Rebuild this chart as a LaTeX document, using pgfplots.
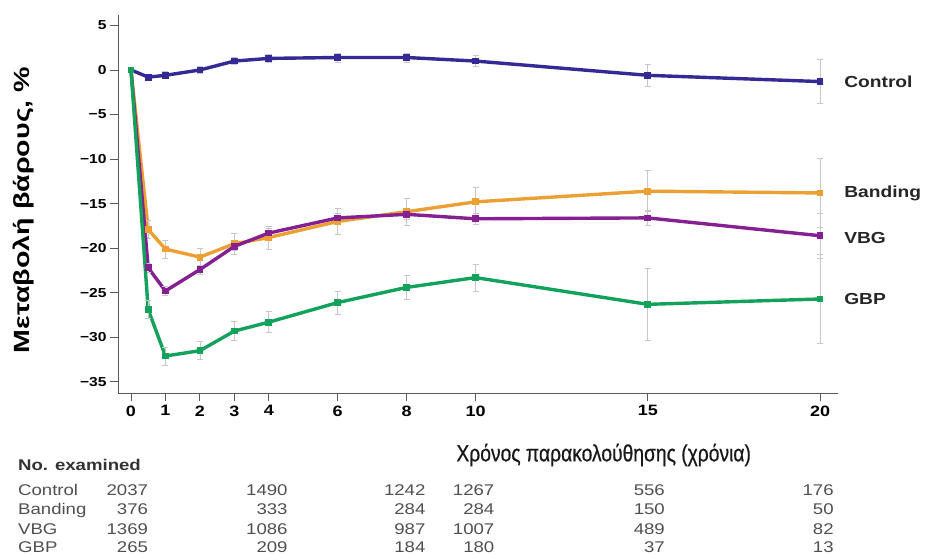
\documentclass[border=0pt]{standalone}
\usepackage{pgfplots}
\pgfplotsset{compat=1.18}
\usepackage{fontspec}
\setmainfont{Liberation Sans}
\newfontfamily\narrowfont[FakeStretch=0.82,FakeBold=0.6]{Liberation Sans}
\newfontfamily\wideb[FakeStretch=1.2]{Liberation Sans}
\newfontfamily\ylabfont[FakeStretch=1.3]{Liberation Sans}
\definecolor{ctrl}{RGB}{52,42,150}
\definecolor{band}{RGB}{236,160,52}
\definecolor{vbg}{RGB}{132,32,145}
\definecolor{gbp}{RGB}{18,162,92}
\definecolor{axgray}{RGB}{90,90,90}
\definecolor{tabgray}{RGB}{80,80,80}
\begin{document}
\begin{tikzpicture}[x=1pt,y=1pt]
\path[use as bounding box] (0,0) rectangle (928,555);
\begin{axis}[
  at={(118pt,162pt)}, anchor=south west,
  scale only axis, width=720pt, height=378pt,
  xmin=-0.377, xmax=20.52, ymin=-36.25, ymax=6.17,
  axis lines=left, axis line style={-, axgray, line width=1pt},
  xtick={0,1,2,3,4,6,8,10,15,20},
  ytick={-35,-30,-25,-20,-15,-10,-5,0,5},
  yticklabels={−35,−30,−25,−20,−15,−10,−5,0,5},
  tick align=outside, major tick length=8pt,
  tick style={axgray, line width=0.9pt},
  /pgf/number format/assume math mode=true,
  xticklabel style={font=\wideb\fontsize{15}{17}\selectfont\bfseries, yshift=-1pt},
  yticklabel style={font=\wideb\fontsize{13}{15}\selectfont\bfseries, xshift=0pt},
  clip=false,
  error bars/y dir=both, error bars/y explicit,
  error bars/error bar style={black!22, line width=0.8pt},
  error bars/error mark options={rotate=90, mark size=3pt, black!22, line width=0.8pt},
  every axis plot/.append style={line width=3.4pt, mark=square*, mark size=1.7pt},
]
\addplot[ctrl] coordinates {
 (0,0) (0.5,-0.8) +- (0,0.3) (1,-0.6) +- (0,0.4) (2,0) +- (0,0.4) (3,1.0) +- (0,0.4)
 (4,1.3) +- (0,0.4) (6,1.4) +- (0,0.5) (8,1.4) +- (0,0.5) (10,1.0) +- (0,0.6)
 (15,-0.6) +- (0,1.2) (20,-1.3) +- (0,2.5)};
\addplot[band] coordinates {
 (0,0) (0.5,-17.9) +- (0,1.0) (1,-20.1) +- (0,1.0) (2,-21.0) +- (0,1.0) (3,-19.5) +- (0,1.2)
 (4,-18.8) +- (0,1.3) (6,-17.0) +- (0,1.5) (8,-15.9) +- (0,1.5) (10,-14.8) +- (0,1.6)
 (15,-13.6) +- (0,2.3) (20,-13.8) +- (0,3.9)};
\addplot[vbg] coordinates {
 (0,0) (0.5,-22.2) +- (0,0.5) (1,-24.8) +- (0,0.5) (2,-22.4) +- (0,0.5) (3,-19.8) +- (0,0.5)
 (4,-18.3) +- (0,0.5) (6,-16.6) +- (0,0.5) (8,-16.2) +- (0,0.6) (10,-16.7) +- (0,0.6)
 (15,-16.6) +- (0,0.8) (20,-18.6) +- (0,2.5)};
\addplot[gbp] coordinates {
 (0,0) (0.5,-26.9) +- (0,1.0) (1,-32.1) +- (0,1.0) (2,-31.5) +- (0,1.0) (3,-29.3) +- (0,1.1)
 (4,-28.3) +- (0,1.2) (6,-26.1) +- (0,1.3) (8,-24.4) +- (0,1.4) (10,-23.3) +- (0,1.5)
 (15,-26.3) +- (0,4.0) (20,-25.7) +- (0,5.0)};
% series labels
\node[anchor=west, font=\wideb\fontsize{16}{18}\selectfont\bfseries, text=black!85] at (axis cs:20.6,-1.3) {Control};
\node[anchor=west, font=\wideb\fontsize{16}{18}\selectfont\bfseries, text=black!85] at (axis cs:20.6,-13.8) {Banding};
\node[anchor=west, font=\wideb\fontsize{16}{18}\selectfont\bfseries, text=black!85] at (axis cs:20.6,-18.8) {VBG};
\node[anchor=west, font=\wideb\fontsize{16}{18}\selectfont\bfseries, text=black!85] at (axis cs:20.6,-25.7) {GBP};
% axis titles
\node[rotate=90, font=\ylabfont\fontsize{22}{24}\selectfont\bfseries] at (axis cs:-3.12,-15.7) {Μεταβολή βάρους, \%};
\node[font=\narrowfont\fontsize{23.5}{25}\selectfont, text=black!90] at (axis cs:13.72,-43.2) {Χρόνος παρακολούθησης (χρόνια)};
% table
\begin{scope}[every node/.style={font=\wideb\fontsize{15.5}{17}\selectfont, text=tabgray, inner sep=0pt}]
\node[anchor=base west, font=\wideb\fontsize{15.5}{17}\selectfont\bfseries, text=black!80] at (axis cs:-3.28,-44.9) {No. examined};
\node[anchor=base west] at (axis cs:-3.28,-47.7) {Control};
\node[anchor=base west] at (axis cs:-3.28,-49.9) {Banding};
\node[anchor=base west] at (axis cs:-3.28,-52.1) {VBG};
\node[anchor=base west] at (axis cs:-3.28,-54.1) {GBP};
\node[anchor=base east] at (axis cs:0.5,-47.7) {2037};
\node[anchor=base east] at (axis cs:0.5,-49.9) {376};
\node[anchor=base east] at (axis cs:0.5,-52.1) {1369};
\node[anchor=base east] at (axis cs:0.5,-54.1) {265};
\node[anchor=base east] at (axis cs:4.55,-47.7) {1490};
\node[anchor=base east] at (axis cs:4.55,-49.9) {333};
\node[anchor=base east] at (axis cs:4.55,-52.1) {1086};
\node[anchor=base east] at (axis cs:4.55,-54.1) {209};
\node[anchor=base east] at (axis cs:8.55,-47.7) {1242};
\node[anchor=base east] at (axis cs:8.55,-49.9) {284};
\node[anchor=base east] at (axis cs:8.55,-52.1) {987};
\node[anchor=base east] at (axis cs:8.55,-54.1) {184};
\node[anchor=base east] at (axis cs:10.55,-47.7) {1267};
\node[anchor=base east] at (axis cs:10.55,-49.9) {284};
\node[anchor=base east] at (axis cs:10.55,-52.1) {1007};
\node[anchor=base east] at (axis cs:10.55,-54.1) {180};
\node[anchor=base east] at (axis cs:15.5,-47.7) {556};
\node[anchor=base east] at (axis cs:15.5,-49.9) {150};
\node[anchor=base east] at (axis cs:15.5,-52.1) {489};
\node[anchor=base east] at (axis cs:15.5,-54.1) {37};
\node[anchor=base east] at (axis cs:20.4,-47.7) {176};
\node[anchor=base east] at (axis cs:20.4,-49.9) {50};
\node[anchor=base east] at (axis cs:20.4,-52.1) {82};
\node[anchor=base east] at (axis cs:20.4,-54.1) {13};
\end{scope}
\end{axis}
\end{tikzpicture}
\end{document}
